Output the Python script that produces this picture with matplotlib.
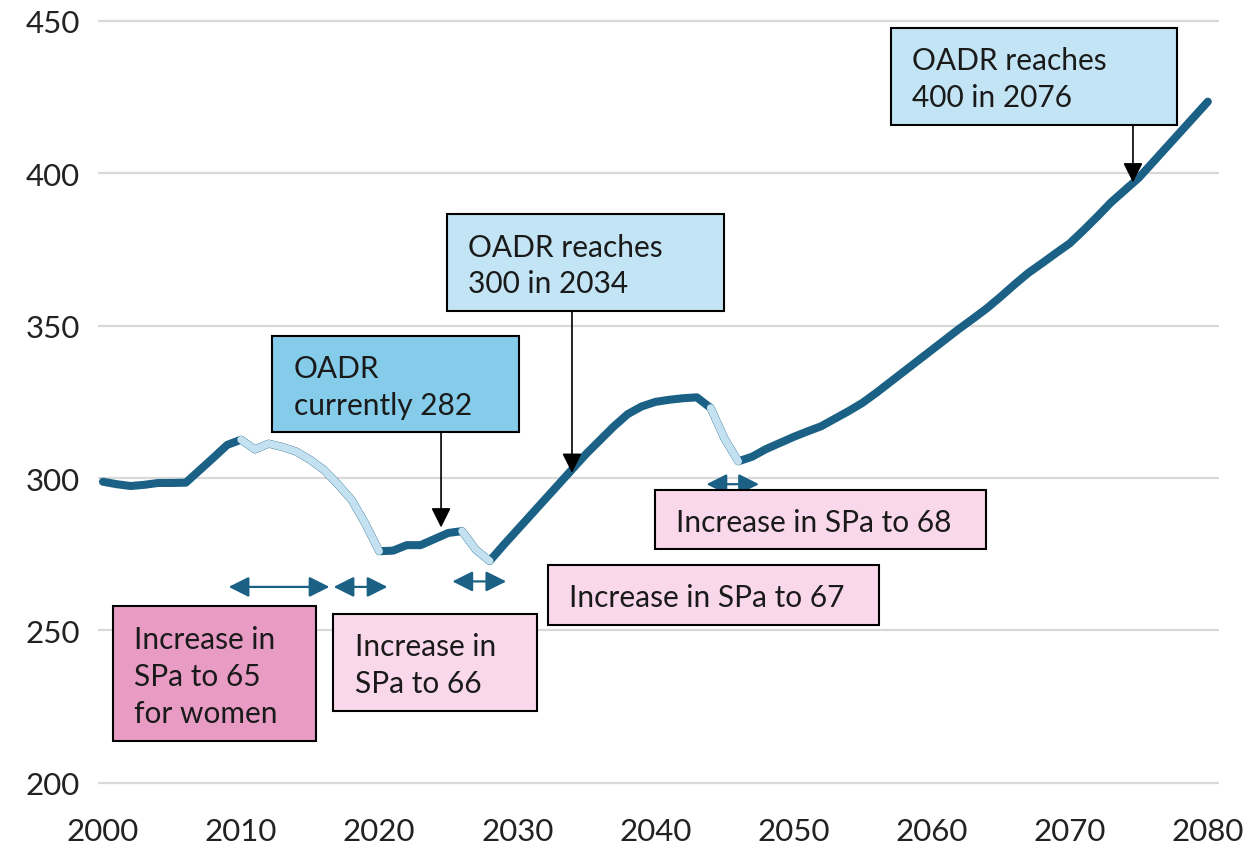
import matplotlib.pyplot as plt
from matplotlib.patches import Rectangle, FancyArrowPatch
import numpy as np

plt.rcParams['font.family'] = ['Lato', 'DejaVu Sans']

# old age dependency ratio, per 1000
years = np.arange(2000, 2081)
oadr = [
    298.8, 298.0, 297.4, 297.8, 298.4, 298.4, 298.5, 302.6, 306.7, 310.9,
    312.6, 309.4, 311.3, 310.2, 308.7, 306.0, 302.7, 298.0, 292.9, 285.0,
    276.0, 276.2, 278.0, 278.0, 280.0, 282.0, 282.6, 276.5, 272.8, 278.0,
    283.0, 288.0, 293.0, 298.0, 303.0, 308.0, 312.5, 317.0, 321.0, 323.5,
    325.0, 325.7, 326.2, 326.5, 323.0, 313.0, 305.5, 307.0, 309.5, 311.5,
    313.5, 315.3, 317.0, 319.5, 322.0, 324.7, 328.0, 331.5, 335.0, 338.5,
    342.0, 345.5, 349.0, 352.3, 355.7, 359.5, 363.5, 367.3, 370.5, 373.8,
    377.0, 381.3, 385.8, 390.5, 394.5, 398.5, 403.5, 408.5, 413.5, 418.5,
    423.5,
]
# periods where state pension age rises
spa_periods = [(2010, 2020), (2026, 2028), (2044, 2046)]

dark = "#1b6185"
light = "#c4e1f1"

fig = plt.figure(figsize=(12.58, 8.45), dpi=100)
ax = fig.add_axes([0.0779, 0.0651, 0.8911, 0.9162])

ax.plot(years, oadr, color=dark, lw=5.8, solid_capstyle="round", solid_joinstyle="round", zorder=3)
for a, b in spa_periods:
    m = (years >= a) & (years <= b)
    ax.plot(years[m], np.array(oadr)[m], color=light, lw=5.4,
            solid_capstyle="round", solid_joinstyle="round", zorder=4)

ax.set_xlim(1999.64, 2080.81)
ax.set_ylim(198, 452)
ax.set_xticks(range(2000, 2081, 10))
ax.set_yticks(range(200, 451, 50))
ax.grid(axis="y", color="#d9d9d9", lw=1.6)
ax.set_axisbelow(True)
for s in ax.spines.values():
    s.set_visible(False)
ax.tick_params(axis="both", length=0, labelsize=22.5, colors="#222222")
ax.tick_params(axis="y", pad=13)
ax.tick_params(axis="x", pad=20)

# double headed arrows under the pension age changes
arrows = [(2009.1, 2016.4, 264.3), (2016.7, 2020.6, 264.3),
          (2025.3, 2029.2, 266.1), (2043.7, 2047.5, 298.0)]
for x0, x1, y in arrows:
    ax.add_patch(FancyArrowPatch((x0, y), (x1, y),
                 arrowstyle="<|-|>,head_length=0.62,head_width=0.31",
                 mutation_scale=20, color=dark, lw=1.6,
                 shrinkA=0, shrinkB=0, zorder=5))

# text boxes: text, left, right, bottom, top, fill
boxes = [
    ("OADR reaches\n400 in 2076", 2057.04, 2077.75, 415.9, 447.7, "#c2e4f4"),
    ("OADR reaches\n300 in 2034", 2024.9, 2044.97, 354.8, 386.7, "#c2e4f4"),
    ("OADR\ncurrently 282", 2012.26, 2030.14, 315.0, 346.7, "#85cbea"),
    ("Increase in\nSPa to 65\nfor women", 2000.7, 2015.42, 213.6, 258.1, "#e89cc4"),
    ("Increase in\nSPa to 66", 2016.68, 2031.45, 223.7, 255.4, "#f8d8ea"),
    ("Increase in SPa to 67", 2032.2, 2056.2, 251.8, 271.5, "#f8d8ea"),
    ("Increase in SPa to 68", 2039.97, 2063.94, 276.7, 296.2, "#f8d8ea"),
]
for txt, x0, x1, y0, y1, fc in boxes:
    ax.add_patch(Rectangle((x0, y0), x1 - x0, y1 - y0, facecolor=fc,
                           edgecolor="black", lw=1.5, zorder=6))
    ax.text(x0 + 1.55, (y0 + y1) / 2 - 0.8, txt, fontsize=21.5, color="#1a1a1a",
            ha="left", va="center", linespacing=1.38, zorder=7)

# callout arrows: x, from (box bottom), to
callouts = [(2074.58, 415.9, 397.0), (2033.96, 354.8, 301.7), (2024.48, 315.0, 283.8)]
for x, y0, y1 in callouts:
    ax.add_patch(FancyArrowPatch((x, y0), (x, y1),
                 arrowstyle="-|>,head_length=0.6,head_width=0.3",
                 mutation_scale=20, color="black", lw=1.2,
                 shrinkA=0, shrinkB=0, zorder=5))

fig.savefig("out.png", dpi=100)
